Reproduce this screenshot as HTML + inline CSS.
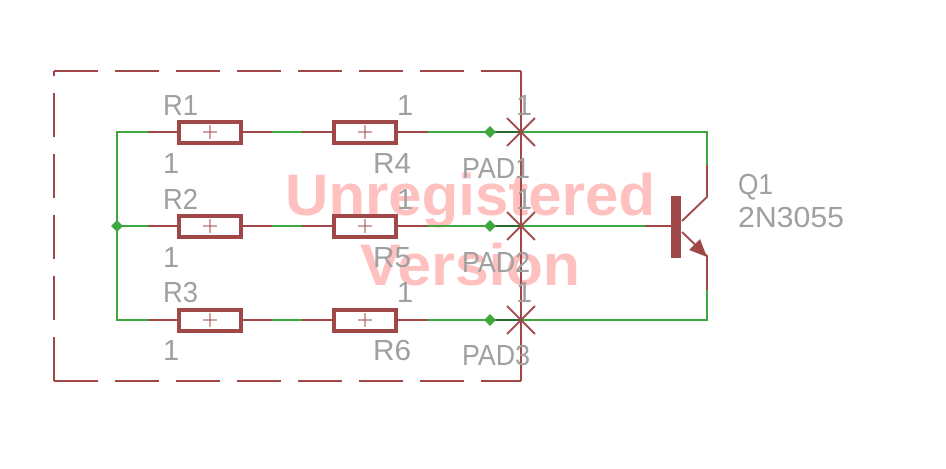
<!DOCTYPE html>
<html><head><meta charset="utf-8"><style>
html,body{margin:0;padding:0;background:#fff;}
svg{display:block;}
text{font-family:"Liberation Sans",sans-serif;fill:#a0a0a0;font-size:29px;}
.w{font-weight:bold;fill:#ffc0c0;font-size:58px;}
</style></head><body>
<svg width="946" height="469" viewBox="0 0 946 469">
<text class="w" x="285" y="215" textLength="370" lengthAdjust="spacingAndGlyphs">Unregistered</text>
<text class="w" x="360" y="285" textLength="220" lengthAdjust="spacingAndGlyphs">Version</text>
<g stroke="#a04848" stroke-width="2" fill="none">
<line x1="54" y1="71" x2="521" y2="71" stroke-dasharray="44 17"/>
<line x1="54" y1="381" x2="521" y2="381" stroke-dasharray="44 17"/>
<line x1="54" y1="381" x2="54" y2="71" stroke-dasharray="44 17"/>
<line x1="521" y1="71" x2="521" y2="381"/>
</g>
<g stroke="#3ea83e" stroke-width="2" fill="none">
<line x1="117" y1="131" x2="117" y2="321"/>
<polyline points="521,132 707,132 707,165"/>
<polyline points="521,320 707,320 707,290"/>
<line x1="521" y1="226" x2="645" y2="226"/>
</g>
<g id="row">
<line x1="117" y1="132" x2="148" y2="132" stroke="#3ea83e" stroke-width="2"/>
<line x1="148" y1="132" x2="178" y2="132" stroke="#a04848" stroke-width="2"/>
<rect x="179" y="122" width="62" height="21" fill="none" stroke="#a04848" stroke-width="4"/>
<path d="M203 132h14M210 125v14" stroke="#a04848" stroke-width="1"/>
<line x1="242" y1="132" x2="272" y2="132" stroke="#a04848" stroke-width="2"/>
<line x1="272" y1="132" x2="302" y2="132" stroke="#3ea83e" stroke-width="2"/>
<line x1="302" y1="132" x2="333" y2="132" stroke="#a04848" stroke-width="2"/>
<rect x="334" y="122" width="62" height="21" fill="none" stroke="#a04848" stroke-width="4"/>
<path d="M358 132h14M365 125v14" stroke="#a04848" stroke-width="1"/>
<line x1="397" y1="132" x2="428" y2="132" stroke="#a04848" stroke-width="2"/>
<line x1="428" y1="132" x2="490" y2="132" stroke="#3ea83e" stroke-width="2"/>
<line x1="490" y1="132" x2="521" y2="132" stroke="#2a6a2a" stroke-width="2"/>
<polygon points="490,126 496,132 490,138 484,132" fill="#3ea83e"/>
<path d="M507 118L535 146M535 118L507 146" stroke="#a04848" stroke-width="2"/>
</g>
<use href="#row" y="94"/>
<use href="#row" y="188"/>
<polygon points="117,220 123,226 117,232 111,226" fill="#3ea83e"/>
<g stroke="#a04848" stroke-width="2" fill="none">
<line x1="645" y1="226" x2="671" y2="226"/>
<polyline points="707,165 707,197 682,221"/>
<polyline points="682,232 707,256 707,290"/>
</g>
<rect x="671" y="196" width="10" height="62" fill="#a04848"/>
<polygon points="707,257 689,250 700,239" fill="#a04848"/>
<g>
<text x="163" y="115" textLength="35" lengthAdjust="spacingAndGlyphs">R1</text><text x="397" y="115">1</text><text x="516" y="115">1</text>
<text x="163" y="173">1</text><text x="373" y="173" textLength="38" lengthAdjust="spacingAndGlyphs">R4</text><text x="462" y="178" textLength="68" lengthAdjust="spacingAndGlyphs">PAD1</text>
<text x="163" y="209" textLength="35" lengthAdjust="spacingAndGlyphs">R2</text><text x="397" y="209">1</text><text x="516" y="209">1</text>
<text x="163" y="267">1</text><text x="373" y="267" textLength="38" lengthAdjust="spacingAndGlyphs">R5</text><text x="462" y="272" textLength="68" lengthAdjust="spacingAndGlyphs">PAD2</text>
<text x="163" y="302" textLength="35" lengthAdjust="spacingAndGlyphs">R3</text><text x="397" y="302">1</text><text x="516" y="302">1</text>
<text x="163" y="360">1</text><text x="373" y="360" textLength="38" lengthAdjust="spacingAndGlyphs">R6</text><text x="462" y="365" textLength="68" lengthAdjust="spacingAndGlyphs">PAD3</text>
<text x="738" y="194" textLength="35" lengthAdjust="spacingAndGlyphs">Q1</text><text x="738" y="227" textLength="106" lengthAdjust="spacingAndGlyphs">2N3055</text>
</g>
</svg>
</body></html>
